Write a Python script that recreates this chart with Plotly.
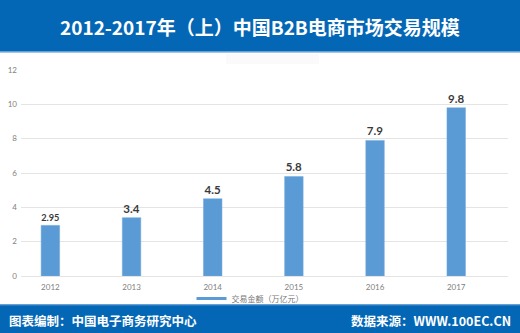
import plotly.graph_objects as go

years = ["2012", "2013", "2014", "2015", "2016", "2017"]
values = [2.95, 3.4, 4.5, 5.8, 7.9, 9.8]
value_labels = ["2.95", "3.4", "4.5", "5.8", "7.9", "9.8"]
series_name = "交易金额（万亿元）"
title_text = "2012-2017年（上）中国B2B电商市场交易规模"
footer_left = "图表编制：中国电子商务研究中心"
footer_right = "数据来源：WWW.100EC.CN"

W, H = 520, 333
ML, MR, MT, MB = 21, 12, 70, 57
PW, PH = W - ML - MR, H - MT - MB

def px_x(p):
    return (p - ML) / PW

def px_y(p):
    return (H - MB - p) / PH

BLUE = "#0467B6"
BAR = "#5B9BD5"
FONT = "Lato, 'Noto Sans CJK SC', sans-serif"
CJK = "'Noto Sans CJK SC', sans-serif"

xpos = list(range(len(years)))

fig = go.Figure()
fig.add_trace(go.Bar(
    x=xpos, y=values, width=0.228,
    marker=dict(color=BAR, line=dict(color="#6FA8DC", width=0.5)),
    text=value_labels, textposition="outside",
    texttemplate="<b>%{text}</b>",
    textfont=dict(size=11.5, color="#3A3A3A", family=FONT),
    cliponaxis=False, showlegend=False,
))
fig.add_trace(go.Scatter(
    x=[None], y=[None], mode="lines", name=series_name,
    line=dict(color=BAR, width=3), showlegend=True,
))

shapes = [
    dict(type="rect", xref="paper", yref="paper", x0=px_x(0), x1=px_x(W),
         y0=px_y(51.5), y1=px_y(0), fillcolor=BLUE, line=dict(width=0), layer="below"),
    dict(type="rect", xref="paper", yref="paper", x0=px_x(0), x1=px_x(W),
         y0=px_y(52.5), y1=px_y(51.5), fillcolor="#4A90D0", line=dict(width=0), layer="below"),
    dict(type="rect", xref="paper", yref="paper", x0=px_x(0), x1=px_x(W),
         y0=px_y(H), y1=px_y(304.5), fillcolor=BLUE, line=dict(width=0), layer="below"),
    dict(type="rect", xref="paper", yref="paper", x0=px_x(0), x1=px_x(W),
         y0=px_y(305.5), y1=px_y(304.5), fillcolor="#4A90D0", line=dict(width=0), layer="below"),
    dict(type="rect", xref="paper", yref="paper", x0=px_x(226), x1=px_x(319),
         y0=px_y(64), y1=px_y(54), fillcolor="#FAFAFA", line=dict(width=0), layer="below"),
]

annotations = [
    dict(text="<b>" + title_text + "</b>", xref="paper", yref="paper",
         x=px_x(260), y=px_y(26.5), xanchor="center", yanchor="middle", showarrow=False,
         font=dict(size=19, color="white", family=CJK)),
    dict(text="<b>" + footer_left + "</b>", xref="paper", yref="paper",
         x=px_x(7), y=px_y(320.5), xanchor="left", yanchor="middle", showarrow=False,
         font=dict(size=12.5, color="white", family=CJK)),
    dict(text="<b>" + footer_right + "</b>", xref="paper", yref="paper",
         x=px_x(513), y=px_y(320.5), xanchor="right", yanchor="middle", showarrow=False,
         font=dict(size=12.5, color="white", family=CJK)),
]

fig.update_layout(
    width=W, height=H,
    margin=dict(l=ML, r=MR, t=MT, b=MB, pad=0, autoexpand=False),
    paper_bgcolor="white", plot_bgcolor="white",
    shapes=shapes, annotations=annotations,
    showlegend=True,
    legend=dict(orientation="h", x=px_x(250), xanchor="center", y=px_y(298.5), yanchor="middle",
                font=dict(size=8, color="#777777", family=CJK), bgcolor="rgba(0,0,0,0)"),
    xaxis=dict(tickmode="array", tickvals=xpos, ticktext=years, range=[-0.362, 5.638],
               showgrid=False, zeroline=False, showline=False, ticks="", ticklabelstandoff=5,
               automargin=False,
               tickfont=dict(size=8, color="#808080", family=FONT), fixedrange=True),
    yaxis=dict(range=[0, 12], dtick=2, showgrid=True, gridcolor="#E4E4E4", gridwidth=1.2,
               zeroline=True, zerolinecolor="#E4E4E4", zerolinewidth=1.2, showline=False,
               ticks="", ticklabelstandoff=3, automargin=False,
               tickfont=dict(size=8, color="#808080", family=FONT), fixedrange=True),
    bargap=0.5,
)

fig.write_html("out.html", config={"displayModeBar": False})
